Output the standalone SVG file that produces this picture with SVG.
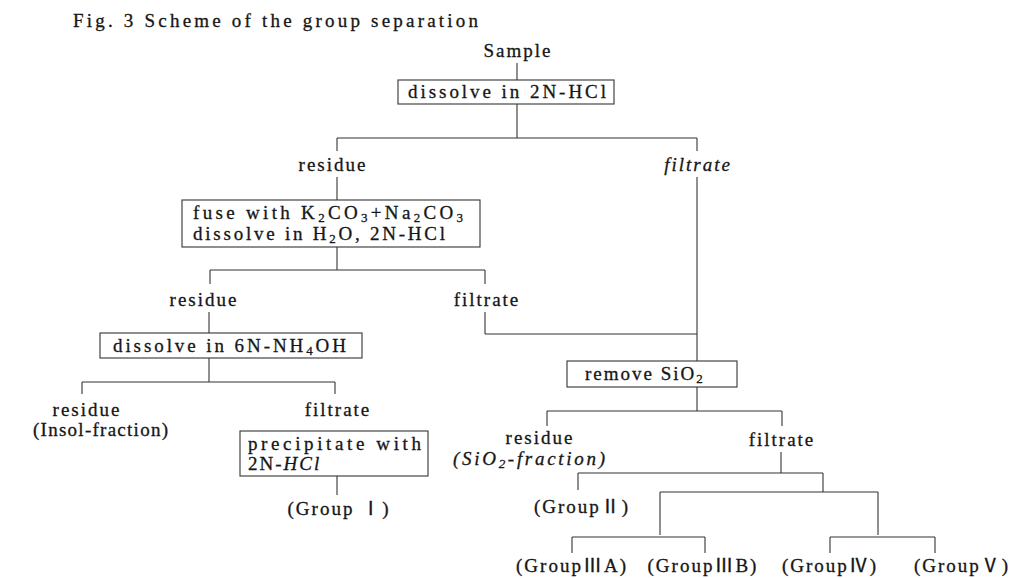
<svg xmlns="http://www.w3.org/2000/svg" width="1025" height="578" viewBox="0 0 1025 578">
<style>
.t{font-family:'Liberation Serif','Noto Sans CJK JP',serif;font-size:19px;letter-spacing:2px;fill:#161616;stroke:#161616;stroke-width:0.3px}
.m{text-anchor:middle}
.i{font-style:italic}
.box{fill:none;stroke:#333;stroke-width:1.1}
.c line{stroke:#333;stroke-width:1.1}
.s{font-size:13px}
</style>
<rect width="1025" height="578" fill="#fff"/>
<text class="t" x="73" y="27" font-size="18" textLength="407" lengthAdjust="spacing">Fig. 3  Scheme of the group separation</text>

<g id="connectors" class="c">
<line x1="517" y1="63" x2="517" y2="80"/>
<line x1="517" y1="104" x2="517" y2="138"/>
<line x1="337" y1="138" x2="697" y2="138"/>
<line x1="337" y1="138" x2="337" y2="151"/>
<line x1="697" y1="138" x2="697" y2="151"/>
<line x1="337" y1="177" x2="337" y2="200"/>
<line x1="337" y1="247" x2="337" y2="270"/>
<line x1="210" y1="270" x2="485" y2="270"/>
<line x1="210" y1="270" x2="210" y2="284"/>
<line x1="485" y1="270" x2="485" y2="284"/>
<line x1="209" y1="312" x2="209" y2="333"/>
<line x1="209" y1="358" x2="209" y2="382"/>
<line x1="82" y1="382" x2="335" y2="382"/>
<line x1="82" y1="382" x2="82" y2="394"/>
<line x1="335" y1="382" x2="335" y2="394"/>
<line x1="337" y1="476" x2="337" y2="495"/>
<line x1="485" y1="312" x2="485" y2="334"/>
<line x1="485" y1="334" x2="697" y2="334"/>
<line x1="697" y1="177" x2="697" y2="361"/>
<line x1="697" y1="387" x2="697" y2="411"/>
<line x1="547" y1="411" x2="782" y2="411"/>
<line x1="547" y1="411" x2="547" y2="426"/>
<line x1="782" y1="411" x2="782" y2="426"/>
<line x1="781" y1="452" x2="781" y2="473"/>
<line x1="578" y1="473" x2="823" y2="473"/>
<line x1="578" y1="473" x2="578" y2="490"/>
<line x1="823" y1="473" x2="823" y2="492"/>
<line x1="660" y1="492" x2="878" y2="492"/>
<line x1="660" y1="492" x2="660" y2="535"/>
<line x1="878" y1="492" x2="878" y2="535"/>
<line x1="572" y1="537" x2="705" y2="537"/>
<line x1="830" y1="537" x2="935" y2="537"/>
<line x1="572" y1="537" x2="572" y2="553"/>
<line x1="705" y1="537" x2="705" y2="553"/>
<line x1="830" y1="537" x2="830" y2="553"/>
<line x1="935" y1="537" x2="935" y2="553"/>
</g>

<g id="sample"><text class="t m" x="518" y="57">Sample</text></g>
<g id="dissolve-hcl"><rect class="box" x="398" y="80" width="216" height="24"/><text class="t" x="408" y="98" textLength="200" lengthAdjust="spacing">dissolve in  2N-HCl</text></g>
<g id="residue1"><text class="t m" x="333" y="171">residue</text></g>
<g id="filtrate1"><text class="t m i" x="698" y="171">filtrate</text></g>
<g id="fuse"><rect class="box" x="182" y="200" width="298" height="47"/>
<text class="t" x="193" y="219" textLength="272" lengthAdjust="spacing">fuse with K<tspan class="s" dy="3">2</tspan><tspan dy="-3">CO</tspan><tspan class="s" dy="3">3</tspan><tspan dy="-3">+Na</tspan><tspan class="s" dy="3">2</tspan><tspan dy="-3">CO</tspan><tspan class="s" dy="3">3</tspan></text>
<text class="t" x="193" y="240" textLength="254" lengthAdjust="spacing">dissolve in H<tspan class="s" dy="3">2</tspan><tspan dy="-3">O, 2N-HCl</tspan></text></g>
<g id="residue2"><text class="t m" x="204" y="306">residue</text></g>
<g id="filtrate2"><text class="t m" x="487" y="306">filtrate</text></g>
<g id="dissolve-nh4oh"><rect class="box" x="100" y="333" width="262" height="25"/><text class="t" x="113" y="352" textLength="235" lengthAdjust="spacing">dissolve in 6N-NH<tspan class="s" dy="3">4</tspan><tspan dy="-3">OH</tspan></text></g>
<g id="residue3"><text class="t m" x="87" y="416">residue</text><text class="t" x="33" y="436" textLength="137" lengthAdjust="spacing">(Insol-fraction)</text></g>
<g id="filtrate3"><text class="t m" x="338" y="416">filtrate</text></g>
<g id="precipitate"><rect class="box" x="240" y="431" width="188" height="45"/><text class="t" x="248" y="450" font-size="18" textLength="175" lengthAdjust="spacing">precipitate with</text><text class="t" x="248" y="470" font-size="18">2N-<tspan class="i">HCl</tspan></text></g>
<g id="group1"><text class="t m" x="339" y="515">(Group Ⅰ)</text></g>
<g id="remove-sio2"><rect class="box" x="567" y="361" width="170" height="26"/><text class="t" x="585" y="380">remove   SiO<tspan class="s" dy="3">2</tspan></text></g>
<g id="residue4"><text class="t m" x="540" y="444">residue</text><text class="t i" x="453" y="465" textLength="154" lengthAdjust="spacing">(SiO<tspan class="s" dy="3">2</tspan><tspan dy="-3">-fraction)</tspan></text></g>
<g id="filtrate4"><text class="t m" x="782" y="446">filtrate</text></g>
<g id="group2"><text class="t m" x="582" y="513">(GroupⅡ)</text></g>
<g id="group3a"><text class="t m" x="572" y="572">(GroupⅢA)</text></g>
<g id="group3b"><text class="t m" x="703" y="572">(GroupⅢB)</text></g>
<g id="group4"><text class="t m" x="830" y="572">(GroupⅣ)</text></g>
<g id="group5"><text class="t m" x="962" y="572">(GroupⅤ)</text></g>
</svg>
